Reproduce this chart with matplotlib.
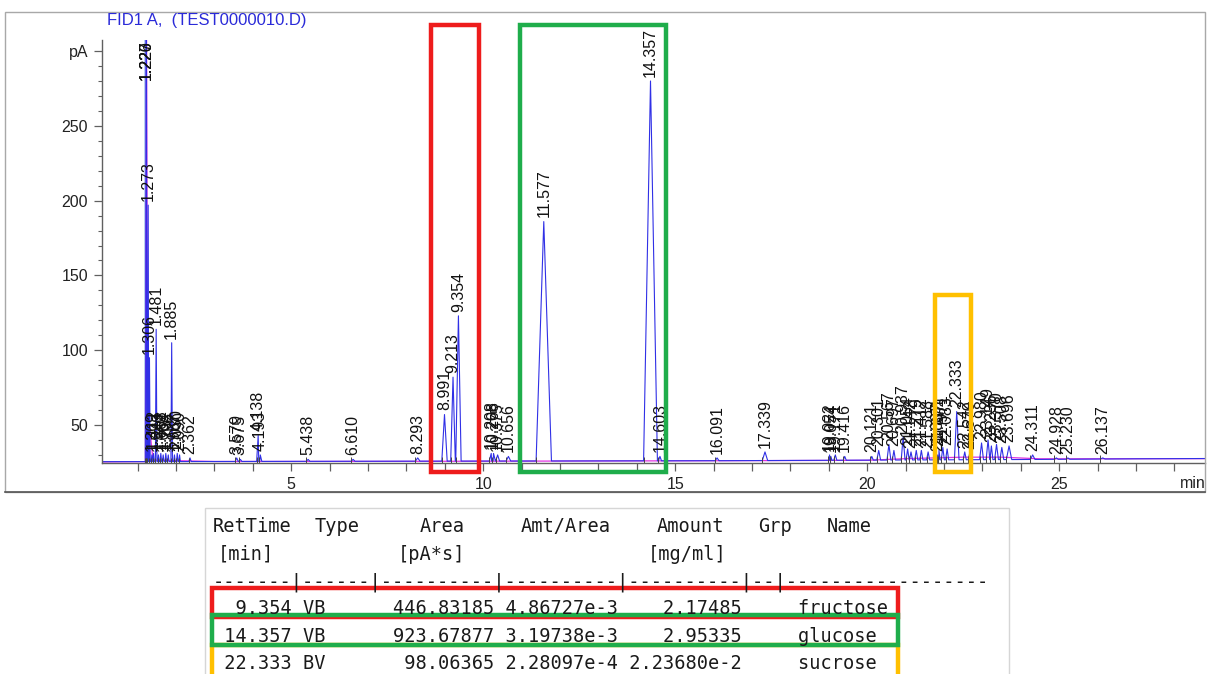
import numpy as np
import matplotlib.pyplot as plt
from matplotlib.patches import Rectangle
from matplotlib.ticker import MultipleLocator, FixedLocator

W, H = 1207, 674

plt.rcParams['font.family'] = ['Liberation Sans', 'DejaVu Sans']

# -------- chromatogram data --------

# peaks: retention time [min], apex [pA], half base width [min]
peak_rt = [1.220, 1.226, 1.227, 1.273, 1.306, 1.369, 1.412, 1.481, 1.540, 1.602,
           1.664, 1.732, 1.796, 1.885, 1.957, 2.030, 2.090, 2.362, 3.579, 3.675,
           4.138, 4.193, 5.438, 6.610, 8.293, 8.991, 9.213, 9.354, 10.208, 10.268,
           10.375, 10.656, 11.577, 14.357, 14.603, 16.091, 17.339, 19.022, 19.054, 19.171,
           19.416, 20.121, 20.301, 20.567, 20.697, 20.937, 21.054, 21.142, 21.279, 21.412,
           21.588, 21.837, 21.871, 21.971, 22.083, 22.333, 22.542, 22.670, 22.980, 23.149,
           23.236, 23.370, 23.508, 23.696, 24.311, 24.928, 25.230, 26.137]
peak_pa = [330, 330, 330, 197, 95, 30, 31, 114, 30, 31,
           30, 31, 30, 105, 30, 31, 30, 28, 28, 27,
           43, 30, 27, 27, 28, 57, 82, 123, 31, 31,
           30, 29, 186, 280, 29, 28, 32, 30, 29, 30,
           29, 29, 33, 37, 33, 42, 34, 32, 33, 33,
           32, 30, 33, 35, 34, 59, 32, 31, 38, 40,
           36, 37, 35, 36, 30, 28, 28, 28]
peak_hw = [0.02, 0.02, 0.02, 0.02, 0.02, 0.02, 0.02, 0.02, 0.02, 0.02,
           0.02, 0.02, 0.02, 0.02, 0.02, 0.02, 0.02, 0.03, 0.04, 0.04,
           0.04, 0.04, 0.05, 0.05, 0.06, 0.07, 0.06, 0.07, 0.05, 0.05,
           0.05, 0.06, 0.20, 0.18, 0.04, 0.05, 0.07, 0.03, 0.03, 0.04,
           0.04, 0.04, 0.05, 0.05, 0.04, 0.05, 0.04, 0.04, 0.04, 0.04,
           0.04, 0.03, 0.03, 0.04, 0.04, 0.06, 0.04, 0.04, 0.05, 0.05,
           0.04, 0.05, 0.05, 0.07, 0.06, 0.05, 0.05, 0.06]

# baseline of FID1 A
base_rt = [0.07, 3.0, 7.5, 13.0, 15.5, 18.0, 24.6, 27.0, 28.8]
base_pa = [25.5, 25.6, 25.8, 26.0, 26.1, 26.3, 27.0, 27.4, 27.6]

# second (pink) trace
pink_rt = [0.07, 1.20, 1.228, 1.26, 1.40, 3.0, 8.0, 12.0, 16.0, 20.0, 21.0, 22.5, 23.5, 24.5, 28.8]
pink_pa = [25.3, 25.5, 330, 60, 26.5, 25.6, 25.7, 25.9, 26.1, 26.4, 27.5, 28.5, 28.5, 27.4, 27.5]

# light blue spike
cyan_rt = [1.19, 1.200, 1.21]
cyan_pa = [25.5, 330, 25.5]

# boxes drawn on the chromatogram: (t0, t1, pA0, pA1, colour)
box_red = (8.63, 9.89, 18.6, 317.4, '#ee1c1c')
box_green = (10.96, 14.75, 18.6, 317.4, '#1fad4b')
box_yellow = (21.77, 22.71, 18.6, 136.9, '#ffc000')

# -------- report table --------
ret_time = ["9.354", "14.357", "22.333"]
pk_type = ["VB", "VB", "BV"]
area = ["446.83185", "923.67877", "98.06365"]
amt_area = ["4.86727e-3", "3.19738e-3", "2.28097e-4"]
amount = ["2.17485", "2.95335", "2.23680e-2"]
names = ["fructose", "glucose", "sucrose"]
row_colors = ['#ee1c1c', '#1fad4b', '#ffc000']

header1 = ["RetTime", "Type", "Area", "Amt/Area", "Amount", "Grp", "Name"]
header1_px = [213, 315, 420, 521, 657, 758, 827]
header2 = ["[min]", "[pA*s]", "[mg/ml]"]
header2_px = [218, 398, 648]
divider = "-------|------|----------|----------|----------|--|------------------"


def main():
    fig = plt.figure(figsize=(W / 100, H / 100), dpi=100)

    # outer frame of the chromatogram panel
    fig.patches.append(Rectangle((5 / W, 1 - 492 / H), 1200 / W, 480 / H,
                                 transform=fig.transFigure, fill=False,
                                 ec='#a8a8a8', lw=1.0))
    fig.add_artist(plt.Line2D([5 / W, 1205 / W], [1 - 492 / H, 1 - 492 / H],
                              transform=fig.transFigure, color='#555555', lw=1.2))

    ax = fig.add_axes([102 / W, 1 - 463 / H, 1103 / W, 423 / H])
    ax.set_xlim(0.07, 28.8)
    ax.set_ylim(24.6, 307.4)

    # build FID trace from baseline + triangular peaks
    pts = list(zip(base_rt, base_pa))
    for rt, h, hw in zip(peak_rt, peak_pa, peak_hw):
        b = np.interp(rt, base_rt, base_pa)
        pts += [(rt - hw, b), (rt, h), (rt + hw, b)]
    pts.sort()
    tx = [p[0] for p in pts]
    ty = [p[1] for p in pts]

    ax.plot(cyan_rt, cyan_pa, color='#8fb8ea', lw=1.0)
    ax.plot(pink_rt, pink_pa, color='#e033e0', lw=0.9)
    ax.plot(tx, ty, color='#3030e6', lw=0.8)

    # integration start marks
    starts = [rt - hw for rt, hw in zip(peak_rt, peak_hw)]
    ax.plot(starts, np.interp(starts, base_rt, base_pa), ls='none', marker='|',
            ms=6, mew=0.7, color='#444444')

    # peak labels
    ytop = ax.get_ylim()[1]
    for rt, h in zip(peak_rt, peak_pa):
        if h > ytop:
            ax.annotate(f"{rt:.3f}", (rt, ytop), xytext=(0, 0), textcoords='offset points',
                        rotation=90, ha='center', va='top', fontsize=11.5, color='#111111')
        else:
            ax.annotate(f"{rt:.3f}", (rt, h), xytext=(0, 3), textcoords='offset points',
                        rotation=90, ha='center', va='bottom', fontsize=11.5, color='#111111')

    # highlight boxes
    for t0, t1, y0, y1, c in (box_red, box_green, box_yellow):
        ax.add_patch(Rectangle((t0, y0), t1 - t0, y1 - y0, fill=False, ec=c,
                               lw=3.2, clip_on=False, zorder=5))

    # axes styling
    for s in ['top', 'right']:
        ax.spines[s].set_visible(False)
    for s in ['left', 'bottom']:
        ax.spines[s].set_color('#606060')
        ax.spines[s].set_linewidth(1.0)
    ax.yaxis.set_major_locator(FixedLocator([50, 100, 150, 200, 250, 300]))
    ax.set_yticklabels(['50', '100', '150', '200', '250', 'pA'])
    ax.yaxis.set_minor_locator(MultipleLocator(10))
    ax.xaxis.set_major_locator(FixedLocator([5, 10, 15, 20, 25]))
    ax.xaxis.set_minor_locator(MultipleLocator(1))
    ax.tick_params(axis='both', which='major', length=6, width=0.9, color='#606060',
                   labelsize=11.5, labelcolor='#222222')
    ax.tick_params(axis='y', which='minor', length=3, width=0.8, color='#606060')
    ax.tick_params(axis='x', which='minor', length=6, width=0.9, color='#606060')
    ax.tick_params(axis='x', pad=4)
    ax.tick_params(axis='y', pad=4)

    fig.text(1206 / W, 1 - 483 / H, 'min', ha='right', va='center', fontsize=11.5, color='#222222')
    fig.text(107 / W, 1 - 20 / H, 'FID1 A,  (TEST0000010.D)', ha='left', va='center',
             fontsize=12, color='#2a2ad8')

    # -------- report table --------
    fig.patches.append(Rectangle((205 / W, -0.01), 804 / W, (674 - 508) / H + 0.01,
                                 transform=fig.transFigure, fill=False, ec='#d6d6d6', lw=1.0))

    mono = dict(ha='left', va='baseline', family='DejaVu Sans Mono', fontsize=13.4,
                color='#1a1a1a')
    for txt, px in zip(header1, header1_px):
        fig.text(px / W, 1 - 532 / H, txt, **mono)
    for txt, px in zip(header2, header2_px):
        fig.text(px / W, 1 - 560 / H, txt, **mono)
    fig.text(213 / W, 1 - 587 / H, divider, **mono)

    row_base = [614, 642, 669]
    for i in range(len(ret_time)):
        line = (f"{ret_time[i]:>7} {pk_type[i]:<6} {area[i]:>10} {amt_area[i]:>10} "
                f"{amount[i]:>10}     {names[i]}")
        fig.text(213 / W, 1 - row_base[i] / H, line, **mono)

    # coloured row boxes (yellow first, green on top)
    row_boxes = [(645, 700), (588, 617), (615, 645)]
    for (y0, y1), c in zip(row_boxes, [row_colors[2], row_colors[0], row_colors[1]]):
        fig.patches.append(Rectangle((212 / W, 1 - y1 / H), (898 - 212) / W, (y1 - y0) / H,
                                     transform=fig.transFigure, fill=False, ec=c, lw=3.2))

    fig.savefig('out.png', dpi=100)


main()
